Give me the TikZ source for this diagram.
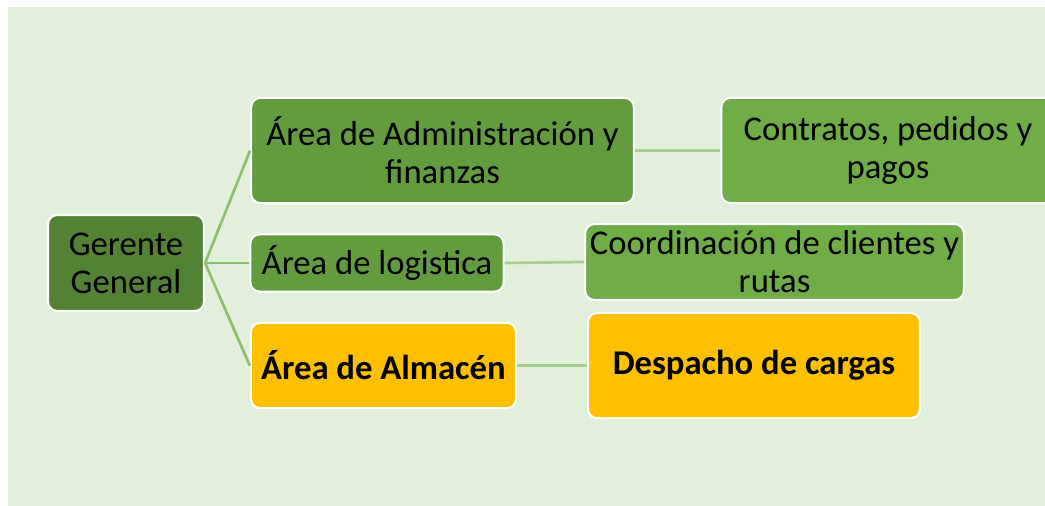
\documentclass[tikz,border=0pt]{standalone}
\usepackage{fontspec}
\setmainfont{Carlito}
\usepackage{tikz}

\definecolor{bgGreen}{HTML}{E2EFDA}
\definecolor{topGreen}{HTML}{548235}
\definecolor{midGreen}{HTML}{629C3E}
\definecolor{leafGreen}{HTML}{70AD47}
\definecolor{amber}{HTML}{FFC000}
\definecolor{linkA}{HTML}{8CC06C}
\definecolor{linkB}{HTML}{A9D08E}

\tikzset{
  box/.style={draw=white, line width=1.6pt, rounded corners=7pt, align=center,
    inner sep=0pt, text=black, font=\fontsize{26}{28.5}\selectfont},
  boldbox/.style={box, font=\fontsize{26}{28.5}\selectfont\bfseries},
  link/.style={line width=2pt}
}

\begin{document}
\begin{tikzpicture}[x=0.75pt,y=-0.75pt]
\useasboundingbox (0,0) rectangle (1045,506);
\fill[bgGreen] (8,7) rectangle (1045,506);
% Root
\node[box,fill=topGreen,minimum width=117pt,minimum height=72pt] (gg) at (126,263) {Gerente\\General};
% Areas
\node[box,fill=midGreen,minimum width=287pt,minimum height=79pt] (adm) at (442.5,150.5) {Área de Administración y\\finanzas};
\node[box,fill=midGreen,minimum width=190pt,minimum height=43pt] (log) at (377,263) {Área de logistica};
\node[boldbox,fill=amber,minimum width=199pt,minimum height=64pt] (alm) at (383.5,365.5) {Área de Almacén};
% Tasks
\node[box,fill=leafGreen,minimum width=250pt,minimum height=79pt] (con) at (888,150.5) {Contratos, pedidos y\\pagos};
\node[box,fill=leafGreen,minimum width=284pt,minimum height=57pt] (coo) at (774.5,262) {Coordinación de clientes y\\rutas};
\node[boldbox,fill=amber,minimum width=249pt,minimum height=79pt] (des) at (754,365.5) {Despacho de cargas};
% Connectors
\foreach \a in {adm,log,alm}
  \draw[link,linkA] (gg.east) -- (\a.west);
\draw[link,linkB] (adm.east) -- (con.west);
\draw[link,linkB] (log.east) -- (coo.west);
\draw[link,linkB] (alm.east) -- (des.west);
\end{tikzpicture}
\end{document}
